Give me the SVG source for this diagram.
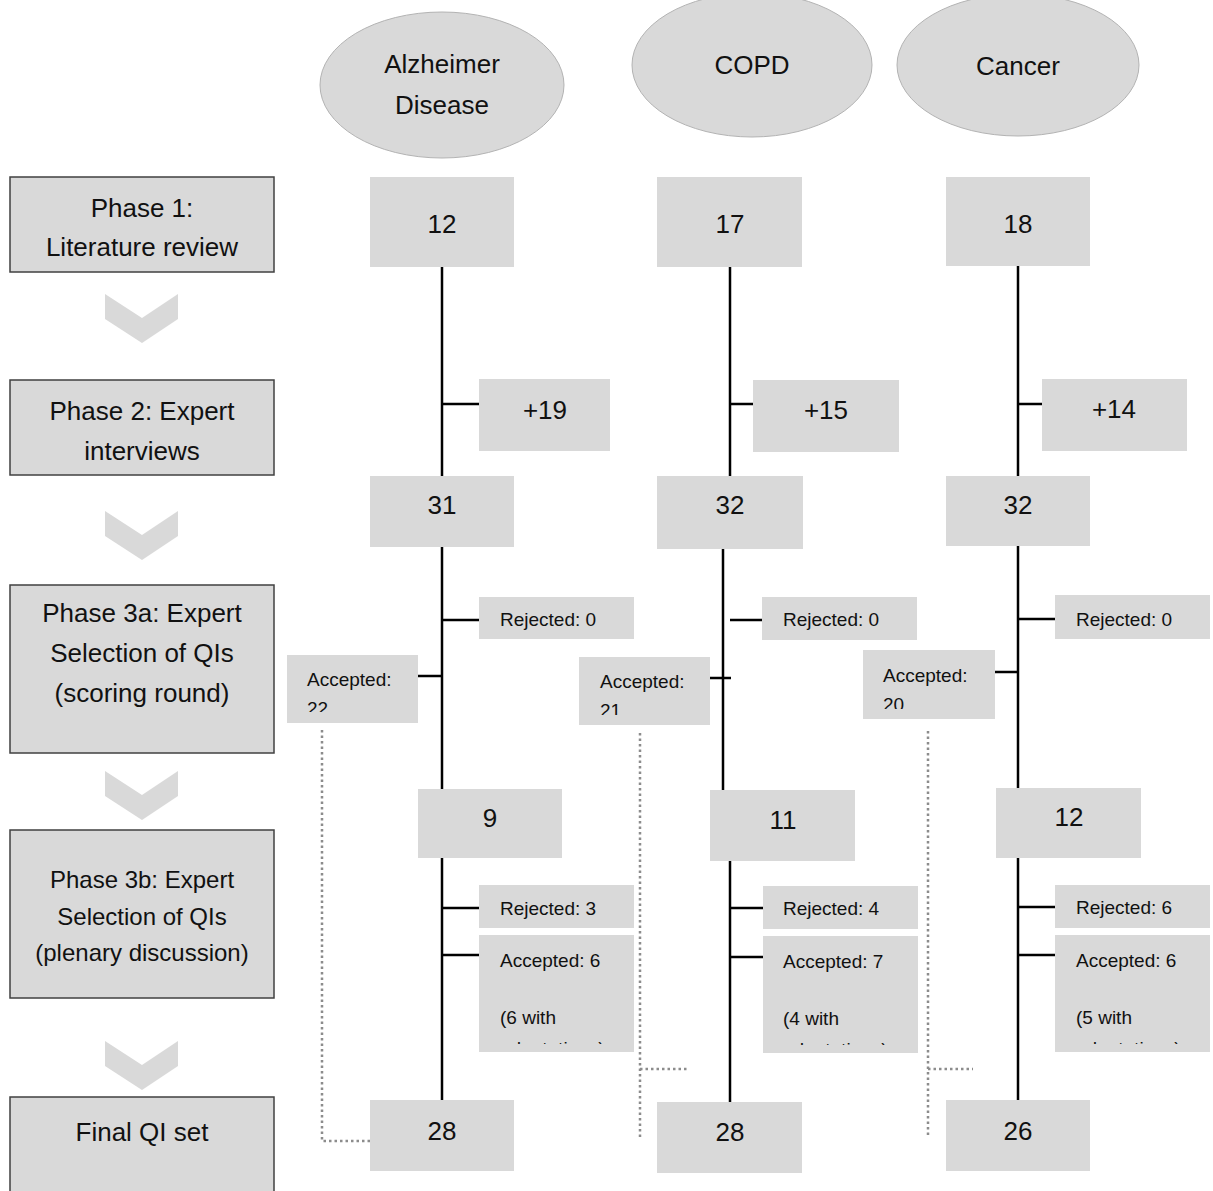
<svg xmlns="http://www.w3.org/2000/svg" width="1213" height="1191" viewBox="0 0 1213 1191">
<style>
text{font-family:"Liberation Sans",Arial,sans-serif;fill:#111}
.big{font-size:26px;text-anchor:middle}
.ph{font-size:26px;text-anchor:middle}
.ph3b{font-size:24px;text-anchor:middle}
.sm{font-size:19px}
.box{fill:#d9d9d9}
.phase{fill:#d9d9d9;stroke:#404040;stroke-width:1.5}
.ell{fill:#d9d9d9;stroke:#b3b3b3;stroke-width:1}
.chev{fill:#d9d9d9}
.ln{stroke:#000;stroke-width:2.5;fill:none}
.dot{stroke:#8c8c8c;stroke-width:2.5;stroke-dasharray:2.5 3;fill:none}
</style>
<defs>
<clipPath id="cA1"><rect x="287" y="655" width="131" height="57"/></clipPath>
<clipPath id="cA2"><rect x="579" y="657" width="131" height="58"/></clipPath>
<clipPath id="cA3"><rect x="863" y="650" width="132" height="59"/></clipPath>
<clipPath id="cB1"><rect x="479" y="935" width="155" height="109"/></clipPath>
<clipPath id="cB2"><rect x="763" y="936" width="155" height="109"/></clipPath>
<clipPath id="cB3"><rect x="1055" y="935" width="155" height="109"/></clipPath>
</defs>

<g id="connectors">
<path class="ln" d="M442,267V476M442,404H479M442,547V789M442,620H479M418,676H442M442,858V1100M442,908H479M442,955H479"/>
<path class="ln" d="M730,267V476M730,404H753M723,538V790M730,620H762M710,678H731M730,861V1102M730,908H763M730,957H763"/>
<path class="ln" d="M1018,266V476M1018,404H1042M1018,546V788M1018,619H1055M995,672H1018M1018,858V1100M1018,907H1055M1018,955H1055"/>
<path class="dot" d="M322,730V1141H370"/>
<path class="dot" d="M640,733V1138M640,1069H688"/>
<path class="dot" d="M928,731V1138M928,1069H973"/>
</g>

<g id="disease-alzheimer"><ellipse class="ell" cx="442" cy="85" rx="122" ry="73"/><text class="big" x="442" y="73">Alzheimer</text><text class="big" x="442" y="114">Disease</text></g>
<g id="disease-copd"><ellipse class="ell" cx="752" cy="65" rx="120" ry="72"/><text class="big" x="752" y="74">COPD</text></g>
<g id="disease-cancer"><ellipse class="ell" cx="1018" cy="65" rx="121" ry="71"/><text class="big" x="1018" y="75">Cancer</text></g>

<g id="phase1"><rect class="phase" x="10" y="177" width="264" height="95"/><text class="ph" x="142" y="217">Phase 1:</text><text class="ph" x="142" y="256">Literature review</text></g>
<g id="chev1"><polygon class="chev" points="105,294 142,318 178,294 178,319 142,343 105,319"/></g>
<g id="phase2"><rect class="phase" x="10" y="380" width="264" height="95"/><text class="ph" x="142" y="420">Phase 2: Expert</text><text class="ph" x="142" y="460">interviews</text></g>
<g id="chev2"><polygon class="chev" points="105,511 142,535 178,511 178,536 142,560 105,536"/></g>
<g id="phase3a"><rect class="phase" x="10" y="585" width="264" height="168"/><text class="ph" x="142" y="622">Phase 3a: Expert</text><text class="ph" x="142" y="662">Selection of QIs</text><text class="ph" x="142" y="702">(scoring round)</text></g>
<g id="chev3"><polygon class="chev" points="105,771 142,795 178,771 178,796 142,820 105,796"/></g>
<g id="phase3b"><rect class="phase" x="10" y="830" width="264" height="168"/><text class="ph3b" x="142" y="888">Phase 3b: Expert</text><text class="ph3b" x="142" y="925">Selection of QIs</text><text class="ph3b" x="142" y="961">(plenary discussion)</text></g>
<g id="chev4"><polygon class="chev" points="105,1041 142,1065 178,1041 178,1066 142,1090 105,1066"/></g>
<g id="final"><rect class="phase" x="10" y="1097" width="264" height="110"/><text class="ph" x="142" y="1141">Final QI set</text></g>

<g id="alz-12"><rect class="box" x="370" y="177" width="144" height="90"/><text class="big" x="442" y="233">12</text></g>
<g id="alz-plus19"><rect class="box" x="479" y="379" width="131" height="72"/><text class="big" x="545" y="419">+19</text></g>
<g id="alz-31"><rect class="box" x="370" y="476" width="144" height="71"/><text class="big" x="442" y="514">31</text></g>
<g id="alz-rej0"><rect class="box" x="479" y="597" width="155" height="42"/><text class="sm" x="500" y="626">Rejected: 0</text></g>
<g id="alz-acc22"><rect class="box" x="287" y="655" width="131" height="68"/><g clip-path="url(#cA1)"><text class="sm" x="307" y="686">Accepted:</text><text class="sm" x="307" y="715">22</text></g></g>
<g id="alz-9"><rect class="box" x="418" y="789" width="144" height="69"/><text class="big" x="490" y="827">9</text></g>
<g id="alz-rej3"><rect class="box" x="479" y="885" width="155" height="43"/><text class="sm" x="500" y="915">Rejected: 3</text></g>
<g id="alz-acc6"><rect class="box" x="479" y="935" width="155" height="117"/><g clip-path="url(#cB1)"><text class="sm" x="500" y="967">Accepted: 6</text><text class="sm" x="500" y="1024">(6 with</text><text class="sm" x="500" y="1055">adaptations)</text></g></g>
<g id="alz-28"><rect class="box" x="370" y="1100" width="144" height="71"/><text class="big" x="442" y="1140">28</text></g>

<g id="copd-17"><rect class="box" x="657" y="177" width="145" height="90"/><text class="big" x="730" y="233">17</text></g>
<g id="copd-plus15"><rect class="box" x="753" y="380" width="146" height="72"/><text class="big" x="826" y="419">+15</text></g>
<g id="copd-32"><rect class="box" x="657" y="476" width="146" height="73"/><text class="big" x="730" y="514">32</text></g>
<g id="copd-rej0"><rect class="box" x="762" y="597" width="155" height="43"/><text class="sm" x="783" y="626">Rejected: 0</text></g>
<g id="copd-acc21"><rect class="box" x="579" y="657" width="131" height="68"/><g clip-path="url(#cA2)"><text class="sm" x="600" y="688">Accepted:</text><text class="sm" x="600" y="717">21</text></g></g>
<g id="copd-11"><rect class="box" x="710" y="790" width="145" height="71"/><text class="big" x="783" y="829">11</text></g>
<g id="copd-rej4"><rect class="box" x="763" y="886" width="155" height="43"/><text class="sm" x="783" y="915">Rejected: 4</text></g>
<g id="copd-acc7"><rect class="box" x="763" y="936" width="155" height="117"/><g clip-path="url(#cB2)"><text class="sm" x="783" y="968">Accepted: 7</text><text class="sm" x="783" y="1025">(4 with</text><text class="sm" x="783" y="1056">adaptations)</text></g></g>
<g id="copd-28"><rect class="box" x="657" y="1102" width="145" height="71"/><text class="big" x="730" y="1141">28</text></g>

<g id="cancer-18"><rect class="box" x="946" y="177" width="144" height="89"/><text class="big" x="1018" y="233">18</text></g>
<g id="cancer-plus14"><rect class="box" x="1042" y="379" width="145" height="72"/><text class="big" x="1114" y="418">+14</text></g>
<g id="cancer-32"><rect class="box" x="946" y="476" width="144" height="70"/><text class="big" x="1018" y="514">32</text></g>
<g id="cancer-rej0"><rect class="box" x="1055" y="595" width="155" height="44"/><text class="sm" x="1076" y="626">Rejected: 0</text></g>
<g id="cancer-acc20"><rect class="box" x="863" y="650" width="132" height="69"/><g clip-path="url(#cA3)"><text class="sm" x="883" y="682">Accepted:</text><text class="sm" x="883" y="711">20</text></g></g>
<g id="cancer-12"><rect class="box" x="996" y="788" width="145" height="70"/><text class="big" x="1069" y="826">12</text></g>
<g id="cancer-rej6"><rect class="box" x="1055" y="885" width="155" height="43"/><text class="sm" x="1076" y="914">Rejected: 6</text></g>
<g id="cancer-acc6"><rect class="box" x="1055" y="935" width="155" height="117"/><g clip-path="url(#cB3)"><text class="sm" x="1076" y="967">Accepted: 6</text><text class="sm" x="1076" y="1024">(5 with</text><text class="sm" x="1076" y="1055">adaptations)</text></g></g>
<g id="cancer-26"><rect class="box" x="946" y="1100" width="144" height="71"/><text class="big" x="1018" y="1140">26</text></g>
</svg>
